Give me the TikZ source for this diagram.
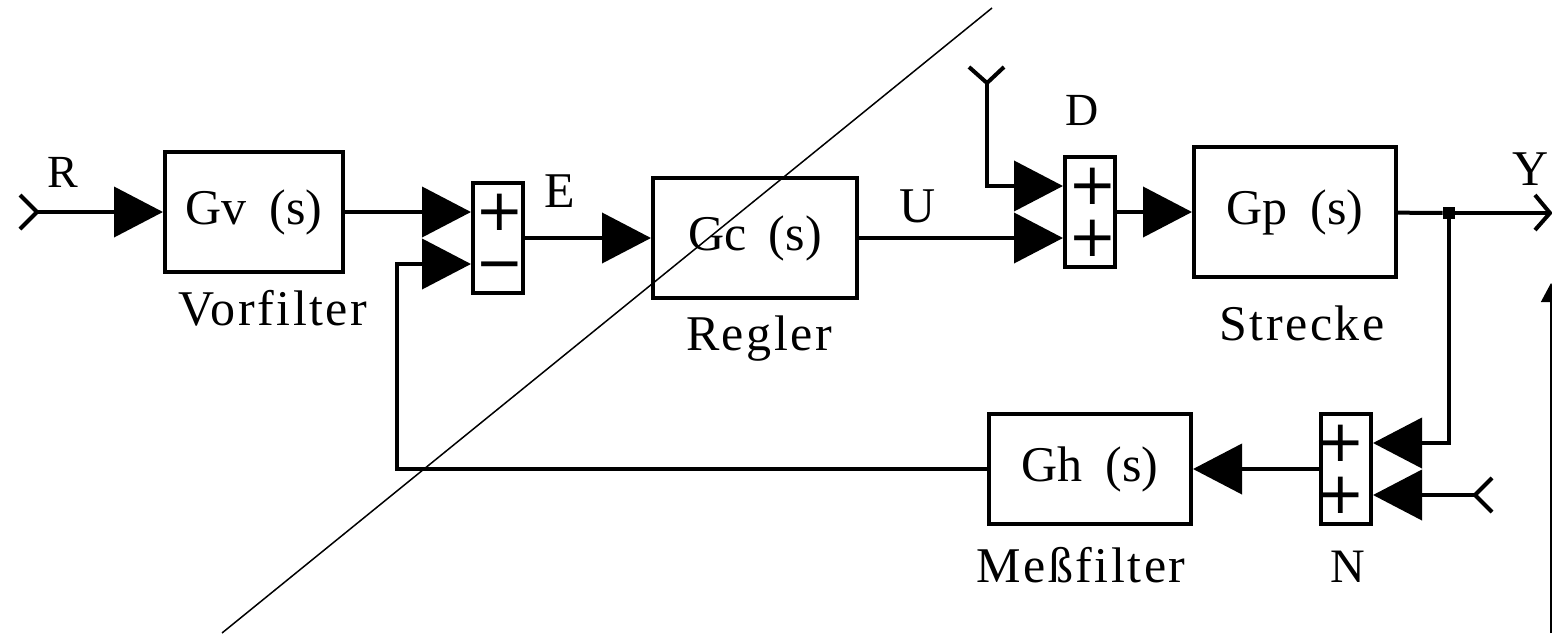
\documentclass[tikz,border=0pt]{standalone}
\usepackage{fontspec}
\setmainfont{Liberation Serif}
\newfontfamily\signfont{DejaVu Sans}
\newfontfamily\lblfont[LetterSpace=5]{Liberation Serif}
\usetikzlibrary{arrows.meta, calc}

\tikzset{
  % Transfer blocks
  block/.style={
    rectangle, draw, line width=2pt, minimum width=#1, minimum height=60pt,
    inner sep=0pt, font=\fontsize{25}{30}\selectfont,
  },
  block/.default={100pt},
  % Summing points
  sumbox/.style={
    rectangle, draw, line width=2pt, minimum width=25pt, minimum height=55pt,
    inner sep=0pt,
  },
  signmark/.style={font=\signfont\fontsize{29}{26}\selectfont, inner sep=0pt,
    align=center},
  % Signals
  sig/.style={line width=2pt, -{Triangle[length=24.5pt, width=25pt]}},
  wire/.style={line width=2pt},
  chev/.style={line width=2pt},
  % Labels
  lbl/.style={font=\lblfont\fontsize{25}{30}\selectfont, inner sep=0pt, anchor=base},
  siglbl/.style={font=\fontsize{#1}{#1}\selectfont, inner sep=0pt, anchor=base},
  siglbl/.default={25},
}

\newcommand{\gap}{\hspace{0.45em}}

\begin{document}
\begin{tikzpicture}[x=0.5pt, y=-0.5pt]
  \useasboundingbox (0,0) rectangle (1552,633);

  % Forward path
  \node[block=89pt] (gv) at (254,212) {Gv\gap(s)};
  \node[sumbox] (sum1) at (498,238) {};
  \node[block=102pt] (gc) at (755,238) {Gc\gap(s)};
  \node[sumbox] (sum2) at (1090,212) {};
  \node[block=101pt, minimum height=65pt] (gp) at (1295,212) {Gp\gap(s)};
  \node[fill, inner sep=0pt, minimum size=6pt] (jn) at (1449,213) {};

  % Feedback path
  \node[sumbox] (sum3) at (1346,469) {};
  \node[block=101pt, minimum height=55pt] (gh) at (1090,469) {Gh\gap(s)};

  % Signs
  \node[signmark] (sg1) at ($(sum1)+(2,0)$) {+\\−};
  \node[signmark] (sg2) at ($(sum2)+(3,0)$) {+\\+};
  \node[signmark] (sg3) at ($(sum3)+(-5,0)$) {+\\+};

  % Inputs, outputs, bends
  \coordinate (rin) at (37,212);
  \coordinate (din) at (987,83);
  \coordinate (nin) at (1475,495);
  \coordinate (yout) at (1550,213);
  \coordinate (fbk) at (397,469);
  \coordinate (s1up) at ($(sum1.west)+(0,-26)$);
  \coordinate (s1lo) at ($(sum1.west)+(0,26)$);
  \coordinate (s2up) at ($(sum2.west)+(0,-26)$);
  \coordinate (s2lo) at ($(sum2.west)+(0,26)$);
  \coordinate (s3up) at ($(sum3.east)+(0,-26)$);
  \coordinate (s3lo) at ($(sum3.east)+(0,26)$);

  \draw[chev] (rin) ++(-17,-17) -- (rin) -- ++(-17,17);
  \draw[chev] (din) ++(-18,-16) -- (din) -- ++(17,-16);
  \draw[chev] (nin) ++(17,-17) -- (nin) -- ++(17,17);
  \draw[chev] (yout) ++(-15,-18) -- (yout) -- ++(-15,17);

  % Connections
  \draw[sig] (rin) -- (gv);
  \draw[sig] (gv) -- (s1up);
  \draw[sig] (sum1) -- (gc);
  \draw[sig] (gc) -- (s2lo);
  \draw[sig] (din) |- (s2up);
  \draw[sig] (sum2) -- (gp);
  \draw[wire] (gp) -- (jn);
  \draw[wire] (jn) -- (yout);
  \draw[sig] (jn) |- (s3up);
  \draw[sig] (nin) -- (s3lo);
  \draw[sig] (sum3) -- (gh);
  \draw[sig] (gh) -- (fbk) |- (s1lo);

  % Signal names
  \node[siglbl=23] (lr) at (63,187) {R};
  \node[siglbl] (le) at (560,207) {E};
  \node[siglbl] (lu) at (918,222) {U};
  \node[siglbl=23] (ld) at (1082,125) {D};
  \node[siglbl] (ly) at (1531,185) {Y};
  \node[siglbl=24] (ln) at (1348,582) {N};

  % Block names
  \node[lbl] (lvor) at (273,325) {Vorfilter};
  \node[lbl] (lreg) at (759,350) {Regler};
  \node[lbl] (lstr) at (1302,340) {Strecke};
  \node[lbl] (lmess) at (1081,582) {Meßfilter};

  % Diagonal stroke and edge line
  \coordinate (da) at (222,633);
  \coordinate (db) at (992,8);
  \draw[line width=0.75pt] (da) -- (db);
  \coordinate (eb) at (1551,633);
  \coordinate (et) at (1551,283);
  \draw[line width=0.75pt, -{Triangle[length=9.5pt, width=10pt]}] (eb) -- (et);
\end{tikzpicture}
\end{document}
